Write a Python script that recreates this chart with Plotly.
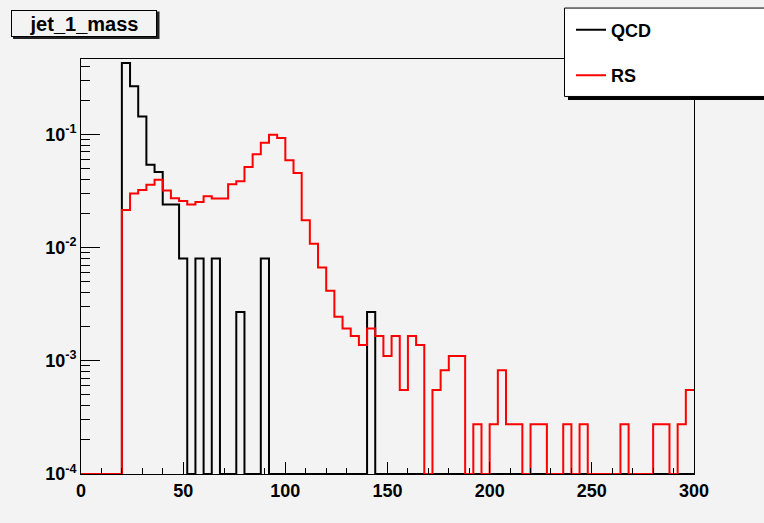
import numpy as np
import plotly.graph_objects as go

# ---------------- data (bin width 4, 0..300) ----------------
bin_width = 4
x_min, x_max = 0, 300
y_axis_min = 1e-4

qcd_values = [
    0, 0, 0, 0, 0,                       # 0-20
    0.426, 0.265, 0.143, 0.0538, 0.0463, # 20-40
    0.0240, 0.0240, 0.0080, 0, 0.0080,   # 40-60
    0, 0.0080, 0, 0, 0.0027,             # 60-80
    0, 0, 0.0080, 0, 0,                  # 80-100
    0, 0, 0, 0, 0,                       # 100-120
    0, 0, 0, 0, 0,                       # 120-140
    0.0027, 0, 0, 0, 0,                  # 140-160
    0, 0, 0, 0, 0,                       # 160-180
    0, 0, 0, 0, 0,                       # 180-200
    0, 0, 0, 0, 0,                       # 200-220
    0, 0, 0, 0, 0,                       # 220-240
    0, 0, 0, 0, 0,                       # 240-260
    0, 0, 0, 0, 0,                       # 260-280
    0, 0, 0, 0, 0,                       # 280-300
]

rs_values = [
    0, 0, 0, 0, 0,                               # 0-20
    0.0214, 0.0299, 0.0321, 0.0358, 0.0397,      # 20-40
    0.0319, 0.0272, 0.0257, 0.0240, 0.0252,      # 40-60
    0.0283, 0.0270, 0.0270, 0.0361, 0.0385,      # 60-80
    0.0513, 0.0664, 0.0841, 0.0989, 0.0925,      # 80-100
    0.0588, 0.0454, 0.0174, 0.0108, 0.00665,     # 100-120
    0.00414, 0.00244, 0.00193, 0.00165, 0.00138, # 120-140
    0.00193, 0.00165, 0.00110, 0.00165, 0.000551,# 140-160
    0.00165, 0.00138, 0, 0.000551, 0.000826,     # 160-180
    0.00110, 0.00110, 0, 0.000275, 0,            # 180-200
    0.000275, 0.000826, 0.000275, 0.000275, 0,   # 200-220
    0.000275, 0.000275, 0, 0, 0.000275,          # 220-240
    0, 0.000275, 0, 0, 0,                        # 240-260
    0, 0.000275, 0, 0, 0,                        # 260-280
    0.000275, 0.000275, 0, 0.000275, 0.000551,   # 280-300
]

series_names = ["QCD", "RS"]
series_colors = ["black", "red"]
title_text = "jet_1_mass"

x_tickvals = [0, 50, 100, 150, 200, 250, 300]
y_tickvals = [1e-4, 1e-3, 1e-2, 1e-1]
y_ticktext = ["10<sup>-4</sup>", "10<sup>-3</sup>", "10<sup>-2</sup>", "10<sup>-1</sup>"]

# ---------------- figure ----------------
W, H = 764, 523
L, R, T, B = 81, 694, 58.5, 474   # plot area in pixels
bg = "#f3f3f3"
FONT = "Liberation Sans"

def px_x(p):
    return (p - L) / (R - L)

def px_y(p):
    return (B - p) / (B - T)

edges = np.arange(x_min, x_max + bin_width, bin_width)

fig = go.Figure()
for name, vals, col in zip(series_names, [qcd_values, rs_values], series_colors):
    v = np.array(vals, dtype=float)
    v = np.where(v > 0, v, y_axis_min)   # empty bins drawn on the frame bottom
    y = np.append(v, v[-1])
    fig.add_trace(go.Scatter(
        x=edges, y=y, mode="lines", line=dict(shape="hv", color=col, width=2),
        name=name, legendgroup=name, hoverinfo="skip"))

fig.update_layout(
    width=W, height=H,
    margin=dict(l=L, r=W - R, t=T, b=H - B, pad=0),
    paper_bgcolor=bg, plot_bgcolor=bg,
    font=dict(family=FONT, size=18, color="black", weight="bold"),
    showlegend=True,
    legend=dict(x=px_x(571), y=px_y(11), xanchor="left", yanchor="top",
                bgcolor="rgba(0,0,0,0)", borderwidth=0,
                font=dict(family=FONT, size=18, color="black", weight="bold"),
                traceorder="grouped", tracegroupgap=19, itemwidth=30),
)

fig.update_xaxes(
    range=[x_min, x_max], showgrid=False, zeroline=False,
    showline=True, linecolor="black", linewidth=1, mirror=True,
    ticks="inside", ticklen=12, tickwidth=1, tickcolor="black",
    tickmode="array", tickvals=x_tickvals,
    tickfont=dict(family=FONT, size=18, color="black", weight="bold"),
    minor=dict(ticks="inside", ticklen=6, tickwidth=1, tickcolor="black", dtick=10, tick0=0, showgrid=False),
)
fig.update_yaxes(
    type="log", range=[-4, -0.336], showgrid=False, zeroline=False,
    showline=True, linecolor="black", linewidth=1, mirror=True,
    ticks="inside", ticklen=19, tickwidth=1, tickcolor="black",
    tickmode="array", tickvals=y_tickvals, ticktext=y_ticktext,
    tickfont=dict(family=FONT, size=18, color="black", weight="bold"),
    minor=dict(ticks="inside", ticklen=9, tickwidth=1, tickcolor="black", dtick="D1", showgrid=False),
)

shapes = []
# legend box with shadow
shapes.append(dict(type="rect", xref="paper", yref="paper", layer="above",
                   x0=px_x(568), x1=px_x(770), y0=px_y(99.5), y1=px_y(11),
                   fillcolor="black", line=dict(width=0)))
shapes.append(dict(type="rect", xref="paper", yref="paper", layer="above",
                   x0=px_x(564.5), x1=px_x(770), y0=px_y(96), y1=px_y(7.5),
                   fillcolor="white", line=dict(color="black", width=1)))
# title box shadow
shapes.append(dict(type="rect", xref="paper", yref="paper", layer="above",
                   x0=px_x(13), x1=px_x(159.5), y0=px_y(38.5), y1=px_y(11),
                   fillcolor="#222222", line=dict(width=0)))
fig.update_layout(shapes=shapes)

fig.add_annotation(
    xref="paper", yref="paper", x=px_x(84), y=px_y(22.8), xanchor="center", yanchor="middle",
    text=title_text, showarrow=False,
    font=dict(family=FONT, size=20, color="black", weight="bold"),
    bgcolor=bg, bordercolor="black", borderwidth=1, borderpad=0,
    width=144, height=25)

fig.write_html("out.html")
